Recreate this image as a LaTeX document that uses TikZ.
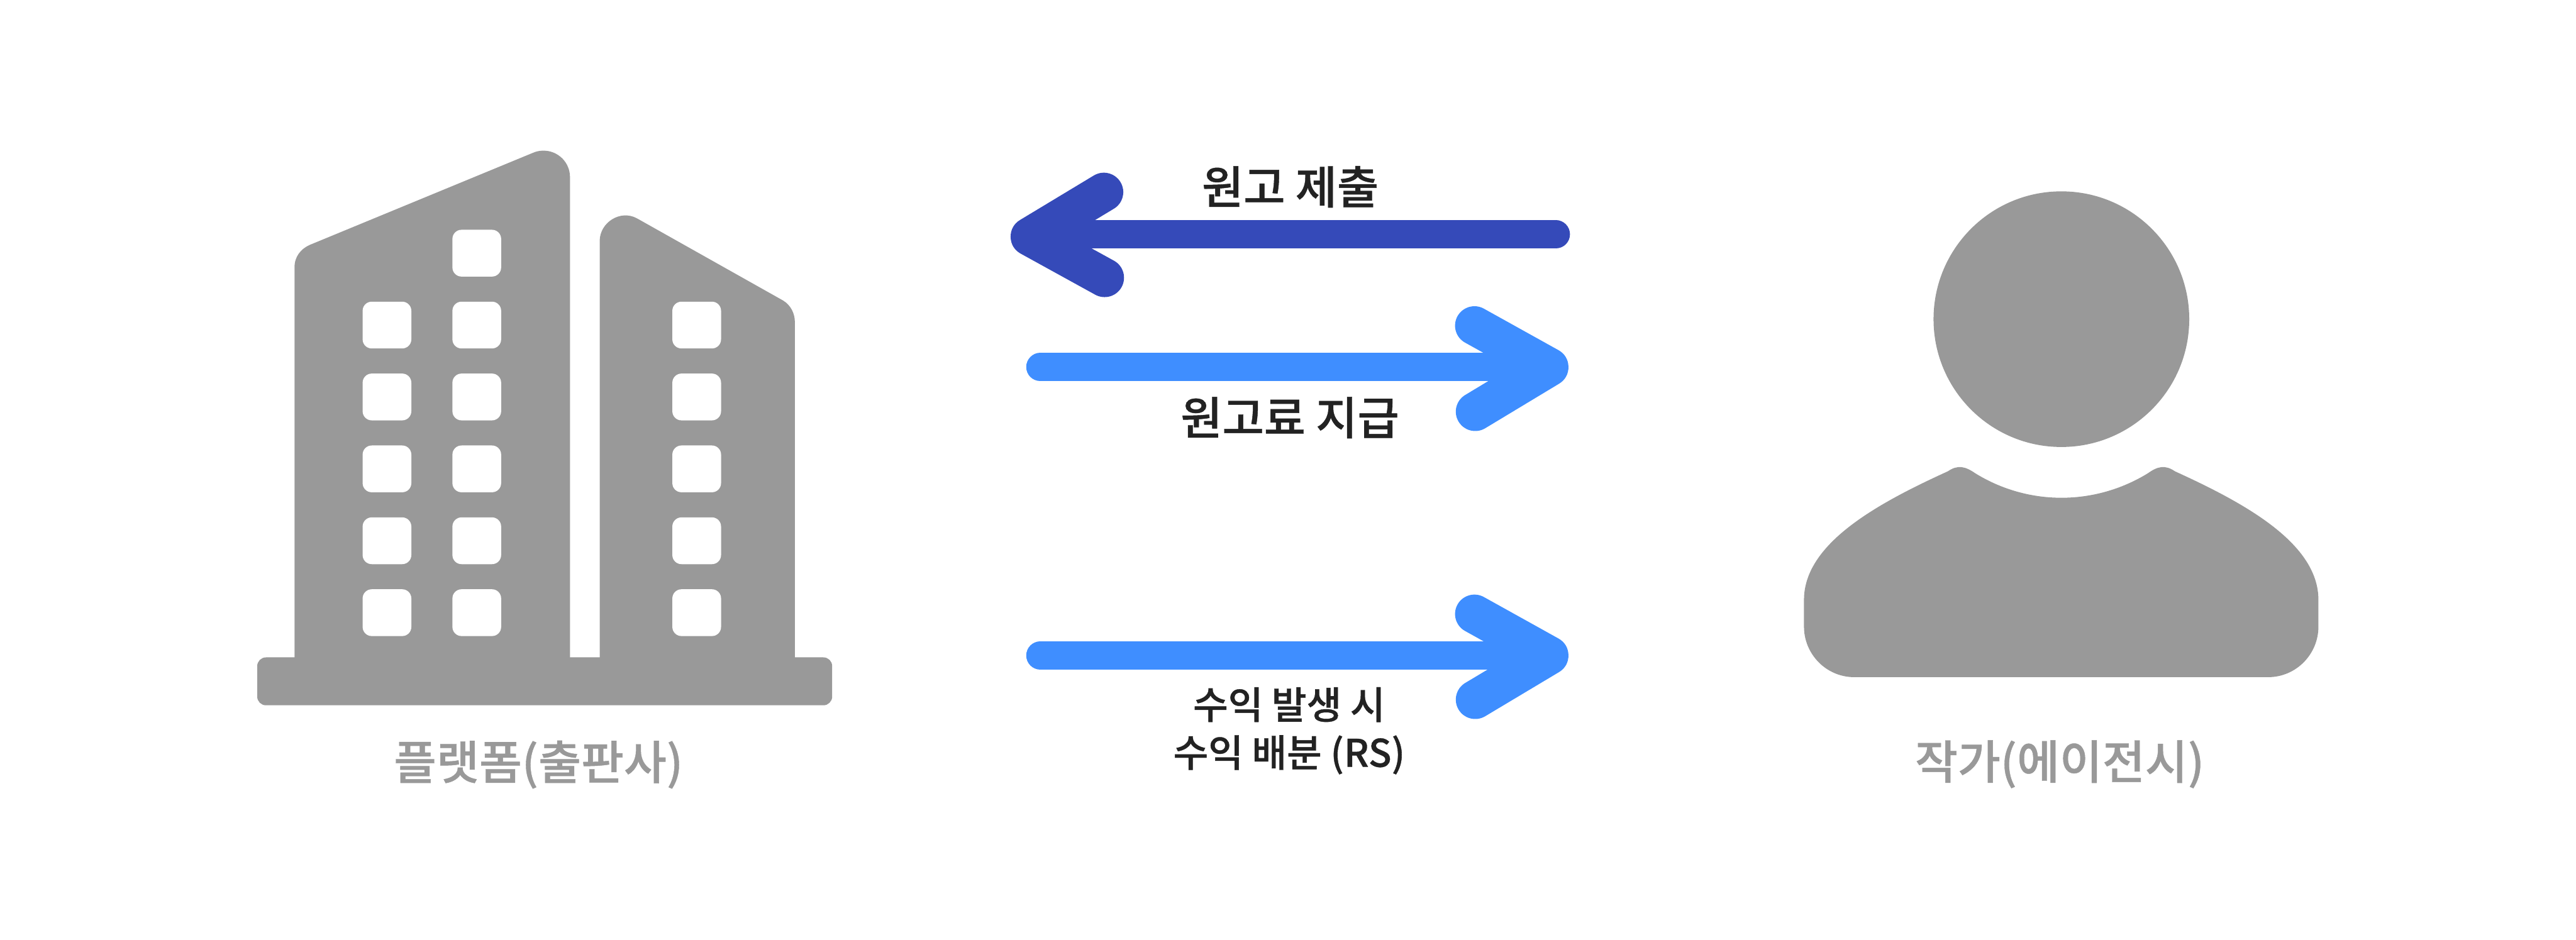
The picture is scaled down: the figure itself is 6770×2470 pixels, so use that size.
\documentclass[tikz,border=0pt]{standalone}
\usepackage{fontspec}
\newfontfamily\krfont[FakeBold=0.6]{Noto Sans CJK KR Medium}
\definecolor{icongray}{HTML}{999999}
\definecolor{inkdark}{HTML}{222222}
\definecolor{arrowdark}{HTML}{354AB9}
\definecolor{arrowblue}{HTML}{3F8EFF}
\tikzset{
  icon/.style={fill=icongray,draw=none},
  win/.style={fill=white,draw=none,rounded corners=24pt},
  shaft/.style={line width=74pt,line cap=round},
  head/.style={line width=102pt,line cap=round,line join=round},
  flowlabel/.style={text=inkdark,font=\krfont\fontsize{119}{119}\selectfont,inner sep=0pt},
  smalllabel/.style={text=inkdark,font=\krfont\fontsize{100}{126}\selectfont,inner sep=0pt,align=center},
  iconlabel/.style={text=icongray,font=\krfont\fontsize{122}{122}\selectfont,inner sep=0pt},
}
\begin{document}
\begin{tikzpicture}[x=1pt,y=-1pt]
\useasboundingbox (0,0) rectangle (6770,2470);
% building
\fill[icon,rounded corners=23pt] (676,1728) rectangle (2187,1854);
\fill[icon] (774,1760) -- (774,703) .. controls (774,675) and (790,654) .. (816,643)
  -- (1400,402) .. controls (1409,398) and (1418,396) .. (1428,396)
  .. controls (1467,396) and (1498,427) .. (1498,466) -- (1498,1760) -- cycle;
\fill[icon] (1576,1760) -- (1576,634) .. controls (1576,585) and (1630,550) .. (1674,574)
  -- (2058,790) .. controls (2078,802) and (2089,824) .. (2089,847) -- (2089,1760) -- cycle;
\foreach \wy in {793,982,1171,1360,1549}{
  \fill[win] (953,\wy) rectangle ++(128,123);
  \fill[win] (1767,\wy) rectangle ++(128,123);
}
\foreach \wy in {604,793,982,1171,1360,1549}{
  \fill[win] (1189,\wy) rectangle ++(128,123);
}
% person
\fill[icon] (5417.5,839) circle (336);
\fill[icon] (4873,1780) .. controls (4800,1780) and (4741,1720) .. (4741,1647)
  -- (4741,1577) .. controls (4741,1430) and (4930,1325) .. (5119,1239)
  .. controls (5145,1221) and (5165,1226) .. (5191,1244)
  .. controls (5330,1330) and (5505,1330) .. (5645,1244)
  .. controls (5670,1226) and (5690,1221) .. (5716,1239)
  .. controls (5905,1325) and (6093,1430) .. (6093,1577)
  -- (6093,1647) .. controls (6093,1720) and (6034,1780) .. (5961,1780)
  -- cycle;
% anchors of the arrows
\coordinate (a1s) at (4089,616);
\coordinate (a1e) at (2707,616);
\coordinate (a1t) at (2707,622);
\coordinate (a1u) at (2901,505);
\coordinate (a1l) at (2903,730);
\coordinate (a2s) at (2734,965);
\coordinate (a2e) at (4071,965);
\coordinate (a2u) at (3875,856);
\coordinate (a2l) at (3877,1082);
\coordinate (a3s) at (2734,1723);
\coordinate (a3e) at (4071,1723);
\coordinate (a3u) at (3875,1614);
\coordinate (a3l) at (3877,1839);
\draw[shaft,arrowdark] (a1s) -- (a1e);
\draw[head,arrowdark] (a1u) -- (a1t) -- (a1l);
\draw[shaft,arrowblue] (a2s) -- (a2e);
\draw[head,arrowblue] (a2u) -- (a2e) -- (a2l);
\draw[shaft,arrowblue] (a3s) -- (a3e);
\draw[head,arrowblue] (a3u) -- (a3e) -- (a3l);
% labels
\node[flowlabel] (submit) at (3391,491) {원고 제출};
\node[flowlabel] (fee) at (3390,1098) {원고료 지급};
\node[smalllabel] (rs) at (3388,1921) {수익 발생 시\\수익 배분 (RS)};
\node[iconlabel] (platform) at (1415,2010) {플랫폼(출판사)};
\node[iconlabel] (author) at (5413,2009) {작가(에이전시)};
\end{tikzpicture}
\end{document}
